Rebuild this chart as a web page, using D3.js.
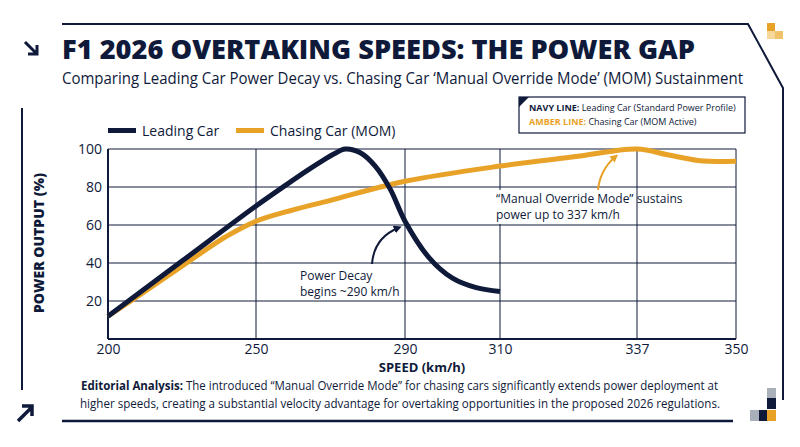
<!DOCTYPE html>
<html><head><meta charset="utf-8">
<script src="https://cdn.jsdelivr.net/npm/d3@7"></script>
<style>body{margin:0;background:#fff}text{font-family:"Open Sans",sans-serif}</style>
</head><body>
<svg id="c" width="800" height="447"></svg>
<script>
const xTicks=[200,250,290,310,337,350];
const yTicks=[20,40,60,80,100];
const leadX=[200,225,250,258,264,268,271,274,278,282,286,290,295,300,305,310];
const leadY=[12,41,70,81,89,94,97.5,100,98,91,79,62,43,32,27,25];
const chaseX=[200,220,240,250,260,270,290,310,325,337,341,345,350];
const chaseY=[12,33,54,62,68,73,83,91,96,100,97,94,93.5];
const NAVY="#0f1a3a",AMBER="#e8a227";
const svg=d3.select("#c");
const x=d3.scaleLinear().domain(xTicks).range([108,256,405,500,637,736]);
const y=d3.scaleLinear().domain([0,100]).range([339,149]);
svg.append("path").attr("d","M62,24 L748,24 L783,88 L783,400").attr("fill","none").attr("stroke",NAVY).attr("stroke-width",2);
svg.append("line").attr("x1",22).attr("x2",22).attr("y1",108).attr("y2",390).attr("stroke",NAVY).attr("stroke-width",2);
svg.append("line").attr("x1",62).attr("x2",733).attr("y1",421).attr("y2",421).attr("stroke",NAVY).attr("stroke-width",2.5);
[[767,23,"#e8a227"],[775,31,"#f0c36a"],[767,31,"#f5d89a"]].forEach(d=>svg.append("rect").attr("x",d[0]).attr("y",d[1]).attr("width",8).attr("height",8).attr("fill",d[2]));
[[767,388,"#aab0ba"],[767,398,NAVY],[750,410,"#aab0ba"],[759,410,NAVY],[767,410,AMBER]].forEach(d=>svg.append("rect").attr("x",d[0]).attr("y",d[1]).attr("width",9).attr("height",11).attr("fill",d[2]));
svg.append("path").attr("d","M25,42 L37,54 M37,45 L37,54 L28,54").attr("stroke",NAVY).attr("stroke-width",3).attr("fill","none");
svg.append("path").attr("d","M18,421 L32,407 M22,406 L32,406 L32,416").attr("stroke",NAVY).attr("stroke-width",3.5).attr("fill","none");
svg.append("text").attr("x",62).attr("y",59).attr("font-size",27).attr("font-weight",800).attr("fill",NAVY).attr("font-family","Roboto").attr("textLength",633).attr("lengthAdjust","spacingAndGlyphs").text("F1 2026 OVERTAKING SPEEDS: THE POWER GAP");
svg.append("text").attr("x",62).attr("y",84).attr("font-size",15.5).attr("fill",NAVY).attr("textLength",681).attr("lengthAdjust","spacingAndGlyphs").text("Comparing Leading Car Power Decay vs. Chasing Car ‘Manual Override Mode’ (MOM) Sustainment");
svg.append("rect").attr("x",519).attr("y",97).attr("width",226).attr("height",36).attr("fill","#fff").attr("stroke",NAVY).attr("stroke-width",1.2);
svg.append("path").attr("d","M519,97 L529,97 L519,107Z").attr("fill",NAVY);
const lb=svg.append("text").attr("x",529).attr("y",111).attr("font-size",9).attr("fill",NAVY);
lb.append("tspan").attr("font-weight",700).text("NAVY LINE: ");lb.append("tspan").text("Leading Car (Standard Power Profile)");
const lb2=svg.append("text").attr("x",529).attr("y",125).attr("font-size",9).attr("fill",NAVY);
lb2.append("tspan").attr("font-weight",700).attr("fill",AMBER).text("AMBER LINE: ");lb2.append("tspan").text("Chasing Car (MOM Active)");
svg.append("rect").attr("x",108).attr("y",128).attr("width",28).attr("height",5).attr("fill",NAVY);
svg.append("text").attr("x",142).attr("y",136).attr("font-size",14).attr("fill",NAVY).text("Leading Car");
svg.append("rect").attr("x",236).attr("y",128).attr("width",28).attr("height",5).attr("fill",AMBER);
svg.append("text").attr("x",270).attr("y",136).attr("font-size",14).attr("fill",NAVY).text("Chasing Car (MOM)");
const g=svg.append("g");
g.selectAll(".v").data(xTicks).join("line").attr("x1",d=>x(d)).attr("x2",d=>x(d)).attr("y1",y(100)).attr("y2",y(0)).attr("stroke",NAVY).attr("stroke-width",1);
g.selectAll(".h").data(yTicks).join("line").attr("x1",x(200)).attr("x2",x(350)).attr("y1",d=>y(d)).attr("y2",d=>y(d)).attr("stroke",NAVY).attr("stroke-width",1);
g.append("line").attr("x1",x(200)).attr("x2",x(350)).attr("y1",y(0)).attr("y2",y(0)).attr("stroke",NAVY).attr("stroke-width",2);
g.append("line").attr("x1",x(200)).attr("x2",x(200)).attr("y1",y(100)).attr("y2",y(0)).attr("stroke",NAVY).attr("stroke-width",2);
const xa=svg.append("g").attr("transform",`translate(0,${y(0)})`).call(d3.axisBottom(x).tickValues(xTicks).tickSize(0).tickPadding(5).tickFormat(d3.format("d")));
xa.select(".domain").remove();xa.selectAll("text").attr("font-size",14).attr("fill",NAVY).attr("font-family","Open Sans");
const ya=svg.append("g").attr("transform",`translate(${x(200)},0)`).call(d3.axisLeft(y).tickValues(yTicks).tickSize(0).tickPadding(6));
ya.select(".domain").remove();ya.selectAll("text").attr("font-size",14).attr("fill",NAVY).attr("font-family","Open Sans");
svg.append("text").attr("x",422).attr("y",372).attr("text-anchor","middle").attr("font-size",13).attr("font-weight",700).attr("fill",NAVY).text("SPEED (km/h)");
svg.append("text").attr("transform","translate(44,243) rotate(-90)").attr("text-anchor","middle").attr("font-size",14).attr("font-weight",800).attr("fill",NAVY).text("POWER OUTPUT (%)");
const line=d3.line().x(d=>x(d[0])).y(d=>y(d[1])).curve(d3.curveCatmullRom.alpha(0.5));
svg.append("path").attr("d",line(chaseX.map((v,i)=>[v,chaseY[i]]))).attr("fill","none").attr("stroke",AMBER).attr("stroke-width",5);
svg.append("path").attr("d",line(leadX.map((v,i)=>[v,leadY[i]]))).attr("fill","none").attr("stroke",NAVY).attr("stroke-width",5);
const mk=(id,c)=>svg.append("defs").append("marker").attr("id",id).attr("viewBox","0 0 10 10").attr("refX",5).attr("refY",5).attr("markerWidth",4).attr("markerHeight",4).attr("orient","auto").append("path").attr("d","M0,0 L10,5 L0,10Z").attr("fill",c);
mk("an",NAVY);mk("aa",AMBER);
svg.append("path").attr("d","M372,264 Q374,238 398,228").attr("fill","none").attr("stroke",NAVY).attr("stroke-width",2).attr("marker-end","url(#an)");
svg.append("path").attr("d","M598,190 Q600,170 615,157").attr("fill","none").attr("stroke",AMBER).attr("stroke-width",2).attr("marker-end","url(#aa)");
const t1=svg.append("text").attr("font-size",12).attr("fill",NAVY);
t1.append("tspan").attr("x",300).attr("y",280).text("Power Decay");t1.append("tspan").attr("x",300).attr("y",296).text("begins ~290 km/h");
svg.append("rect").attr("x",494).attr("y",190).attr("width",140).attr("height",34).attr("fill","#fff");
const t2=svg.append("text").attr("font-size",12).attr("fill",NAVY);
t2.append("tspan").attr("x",496).attr("y",203).text("“Manual Override Mode” sustains");t2.append("tspan").attr("x",496).attr("y",219).text("power up to 337 km/h");
const f1=svg.append("text").attr("x",81).attr("y",390).attr("font-size",12).attr("fill",NAVY).attr("textLength",637).attr("lengthAdjust","spacingAndGlyphs");
f1.append("tspan").attr("font-weight",700).text("Editorial Analysis: ");f1.append("tspan").text("The introduced “Manual Override Mode” for chasing cars significantly extends power deployment at");
svg.append("text").attr("x",80).attr("y",408).attr("font-size",12).attr("fill",NAVY).attr("textLength",640).attr("lengthAdjust","spacingAndGlyphs").text("higher speeds, creating a substantial velocity advantage for overtaking opportunities in the proposed 2026 regulations.");
</script></body></html>
